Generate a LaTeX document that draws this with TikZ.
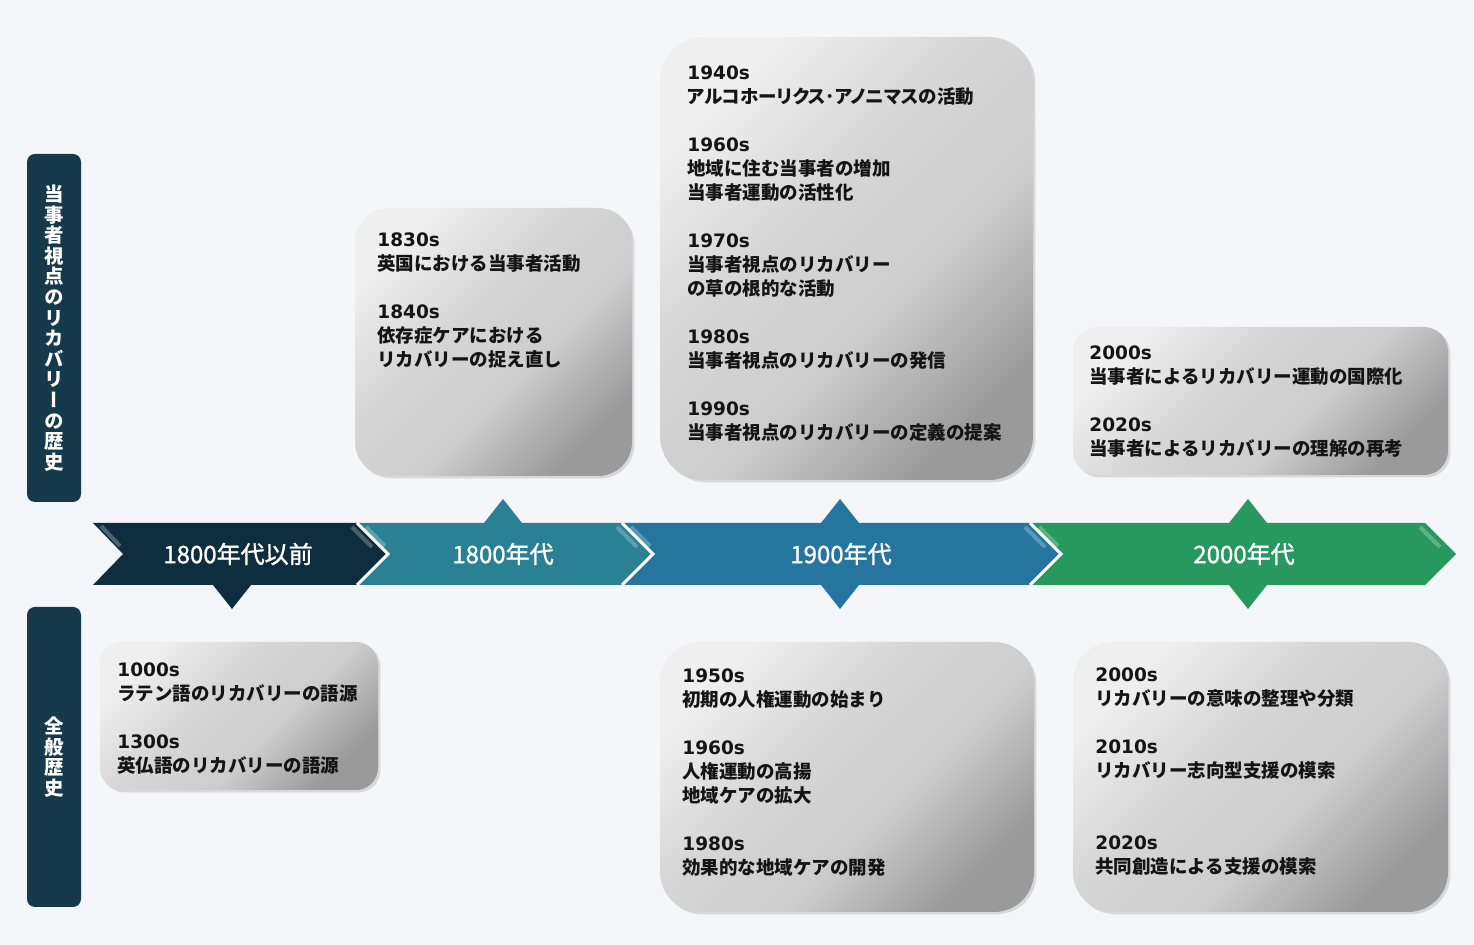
\documentclass[tikz,border=0pt]{standalone}
\usepackage{fontspec}
\setmainfont{Noto Sans CJK JP}
\newfontfamily\yearfont{DejaVu Sans}
\newfontfamily\tatefont[RawFeature=+vert]{Noto Sans CJK JP}
\newfontfamily\paltfont[RawFeature=+palt]{Noto Sans CJK JP}
\newfontface\erafont[FakeBold=1.2]{Noto Sans CJK JP}
\usetikzlibrary{shadows,positioning}

\definecolor{bgcol}{HTML}{F5F6FA}
\definecolor{labelcol}{HTML}{163A4C}
\definecolor{eranavy}{HTML}{0E2E40}
\definecolor{erateal}{HTML}{2A8194}
\definecolor{erablue}{HTML}{25759F}
\definecolor{eragreen}{HTML}{27985E}
\definecolor{boxlight}{HTML}{EFEFEF}
\definecolor{boxmid}{HTML}{D6D6D6}
\definecolor{boxdark}{HTML}{9A9A9A}

\pgfdeclareverticalshading{boxshade}{100bp}{color(0bp)=(boxdark); color(25bp)=(boxdark); color(42bp)=(boxmid!85!boxdark); color(58bp)=(boxmid); color(75bp)=(boxlight); color(100bp)=(boxlight)}

\tikzset{
  sidelabel/.style={fill=labelcol, rounded corners=4pt},
  sidetext/.style={text=white, font=\tatefont\bfseries\fontsize{9.7}{10.3}\selectfont, align=center, inner sep=0pt},
  eratext/.style={text=white, font=\erafont\fontsize{12}{13}\selectfont, inner sep=0pt},
  gloss/.style={white, opacity=0.25, line width=2pt},
  seam/.style={white, line width=1.5pt, line join=miter},
  eventbox/.style={shade, shading=boxshade, shading angle=45, drop shadow={opacity=0.25, shadow xshift=1.2pt, shadow yshift=-1.2pt}},
  eventtext/.style={anchor=north west, align=left, inner sep=0pt, text=black!92, font=\bfseries\fontsize{9.25}{12}\selectfont},
}
\newcommand{\yr}[1]{{\yearfont\bfseries #1}}

\begin{document}
\begin{tikzpicture}[x=0.5pt,y=-0.5pt]
    % Background
    \fill[bgcol] (0,0) rectangle (1474,945);
    \useasboundingbox (0,0) rectangle (1474,945);

    % Side labels
    \fill[sidelabel] (27,154) rectangle (81,502);
    \node[sidetext] (tojisha) at (54,328) {当\\事\\者\\視\\点\\の\\リ\\カ\\バ\\リ\\ー\\の\\歴\\史};
    \fill[sidelabel] (27,607) rectangle (81,907);
    \node[sidetext] (ippan) at (54,757) {全\\般\\歴\\史};

    % Pointer triangles
    \fill[eranavy] (213,585) -- (251,585) -- (232,609) -- cycle;
    \fill[erateal] (484,523) -- (522,523) -- (503,499) -- cycle;
    \fill[erablue] (821,523) -- (859,523) -- (840,499) -- cycle;
    \fill[erablue] (821,585) -- (859,585) -- (840,609) -- cycle;
    \fill[eragreen] (1229,523) -- (1267,523) -- (1248,499) -- cycle;
    \fill[eragreen] (1229,585) -- (1267,585) -- (1248,609) -- cycle;

    % Era chevrons
    \fill[eranavy] (93,523) -- (357,523) -- (388,554) -- (357,585) -- (93,585) -- (123,554) -- cycle;
    \fill[erateal] (357,523) -- (622,523) -- (653,554) -- (622,585) -- (357,585) -- (388,554) -- cycle;
    \fill[erablue] (622,523) -- (1030,523) -- (1061,554) -- (1030,585) -- (622,585) -- (653,554) -- cycle;
    \fill[eragreen] (1030,523) -- (1425,523) -- (1456,554) -- (1425,585) -- (1030,585) -- (1061,554) -- cycle;

    % Bevel highlights
    \draw[gloss] (101,526) -- (120,546);
    \draw[gloss] (352,527) -- (372,547);
    \draw[gloss] (366,527) -- (385,546);
    \draw[gloss] (617,527) -- (637,547);
    \draw[gloss] (631,527) -- (650,546);
    \draw[gloss] (1025,527) -- (1045,547);
    \draw[gloss] (1039,527) -- (1058,546);
    \draw[gloss] (1420,527) -- (1440,547);

    % White seams
    \draw[seam] (357,523) -- (388,554) -- (357,585);
    \draw[seam] (622,523) -- (653,554) -- (622,585);
    \draw[seam] (1030,523) -- (1061,554) -- (1030,585);

    \node[eratext] (preera) at (238,554) {1800年代以前};
    \node[eratext] (era1800) at (503,554) {1800年代};
    \node[eratext] (era1900) at (841,554) {1900年代};
    \node[eratext] (era2000) at (1244,554) {2000年代};

    % Upper row: recovery from the user's view
    \path[eventbox, rounded corners=17pt] (355,208) rectangle (632,476);
    \node[eventtext] (ev1830) at (377,232) {\yr{1830s}\\英国における当事者活動\\[12pt]
        \yr{1840s}\\依存症ケアにおける\\リカバリーの捉え直し};

    \path[eventbox, rounded corners=22pt] (660,37) rectangle (1033,480);
    \node[eventtext] (ev1940) at (687,65) {\yr{1940s}\\{\paltfont アルコホーリクス･アノニマス}の活動\\[12pt]
        \yr{1960s}\\地域に住む当事者の増加\\当事者運動の活性化\\[12pt]
        \yr{1970s}\\当事者視点のリカバリー\\の草の根的な活動\\[12pt]
        \yr{1980s}\\当事者視点のリカバリーの発信\\[12pt]
        \yr{1990s}\\当事者視点のリカバリーの定義の提案};

    \path[eventbox, rounded corners=12pt] (1073,327) rectangle (1448,475);
    \node[eventtext] (ev2000u) at (1089,345) {\yr{2000s}\\当事者によるリカバリー運動の国際化\\[12pt]
        \yr{2020s}\\当事者によるリカバリーの理解の再考};

    % Lower row: general history
    \path[eventbox, rounded corners=11pt] (100,642) rectangle (378,790);
    \node[eventtext] (ev1000) at (117,662) {\yr{1000s}\\ラテン語のリカバリーの語源\\[12pt]
        \yr{1300s}\\英仏語のリカバリーの語源};

    \path[eventbox, rounded corners=20pt] (660,642) rectangle (1034,912);
    \node[eventtext] (ev1950) at (682,668) {\yr{1950s}\\初期の人権運動の始まり\\[12pt]
        \yr{1960s}\\人権運動の高揚\\地域ケアの拡大\\[12pt]
        \yr{1980s}\\効果的な地域ケアの開発};

    \path[eventbox, rounded corners=20pt] (1073,642) rectangle (1448,912);
    \node[eventtext] (ev2000l) at (1095,667) {\yr{2000s}\\リカバリーの意味の整理や分類\\[12pt]
        \yr{2010s}\\リカバリー志向型支援の模索\\[24pt]
        \yr{2020s}\\共同創造による支援の模索};
\end{tikzpicture}
\end{document}
